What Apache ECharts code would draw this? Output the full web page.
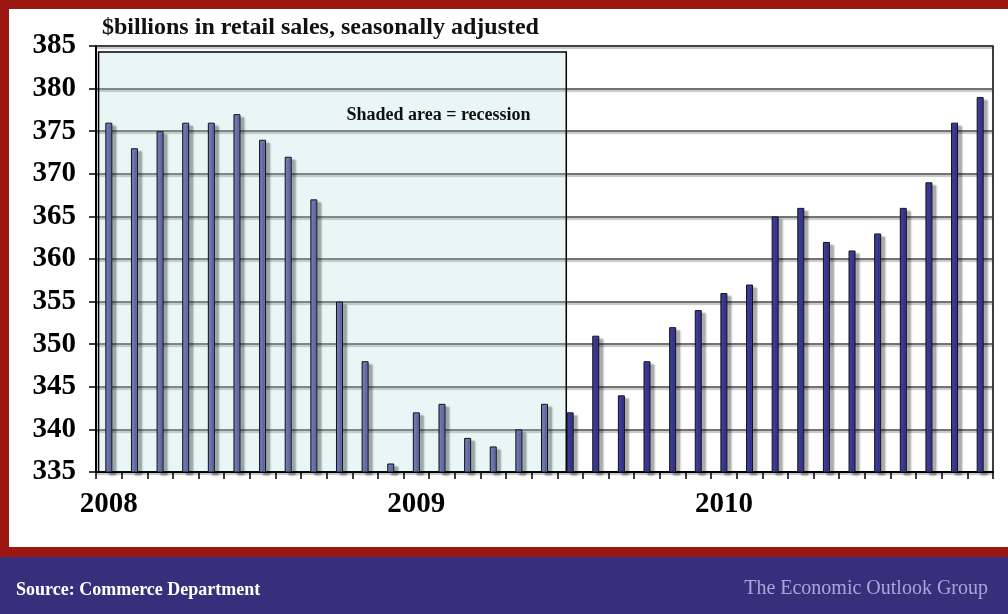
<!DOCTYPE html>
<html>
<head>
<meta charset="utf-8">
<script src="https://cdn.jsdelivr.net/npm/echarts@6/dist/echarts.min.js"></script>
<style>
html,body{margin:0;padding:0;background:#fff;}
#c{width:1008px;height:614px;}
</style>
</head>
<body>
<div id="c"></div>
<script>
// ---- data ----
const months = [
  '2008-01','2008-02','2008-03','2008-04','2008-05','2008-06','2008-07','2008-08','2008-09','2008-10','2008-11','2008-12',
  '2009-01','2009-02','2009-03','2009-04','2009-05','2009-06','2009-07','2009-08','2009-09','2009-10','2009-11','2009-12',
  '2010-01','2010-02','2010-03','2010-04','2010-05','2010-06','2010-07','2010-08','2010-09','2010-10','2010-11'
];
const sales = [
  376, 373, 375, 376, 376, 377, 374, 372, 367, 355, 348, 336,
  342, 343, 339, 338, 340, 343, 342, 351, 344, 348, 352, 354,
  356, 357, 365, 366, 362, 361, 363, 366, 369, 376, 379
];
const recessionCount = 18; // Jan 2008 .. Jun 2009
const yTicks = { min: 335, max: 385, step: 5 };
const titleText = '$billions in retail sales, seasonally adjusted';
const shadeText = 'Shaded area = recession';
const sourceText = 'Source: Commerce Department';
const brandText = 'The Economic Outlook Group';

const serif = '"Liberation Serif", "DejaVu Serif", serif';
const chart = echarts.init(document.getElementById('c'), null, {renderer: 'canvas'});

const barData = sales.map((v, i) => ({
  value: v,
  itemStyle: { color: i < recessionCount ? '#6f78b8' : '#3c3c9c' }
}));

chart.setOption({
  animation: false,
  backgroundColor: '#ffffff',
  title: {
    text: titleText,
    left: 97, top: 11,
    textStyle: { fontFamily: serif, fontWeight: 'bold', fontSize: 24, color: '#111' }
  },
  grid: {
    left: 96, right: 15, top: 46, bottom: 142,
    show: true, borderColor: '#000', borderWidth: 1.5, backgroundColor: 'transparent'
  },
  xAxis: [{
    type: 'category',
    data: months,
    axisLine: { lineStyle: { color: '#000', width: 2 } },
    axisTick: { show: true, interval: 0, length: 7, alignWithLabel: false, lineStyle: { color: '#000', width: 1.5 } },
    axisLabel: {
      interval: 0, margin: 18,
      formatter: v => v.endsWith('-01') ? v.slice(0, 4) : '',
      fontFamily: serif, fontWeight: 'bold', fontSize: 29, color: '#000'
    },
    splitLine: { show: false }
  }, {
    type: 'value', min: 0, max: months.length, show: false
  }],
  yAxis: {
    type: 'value',
    min: yTicks.min, max: yTicks.max, interval: yTicks.step,
    axisLine: { show: true, lineStyle: { color: '#000', width: 2 } },
    axisTick: { show: true, length: 7, lineStyle: { color: '#000', width: 1.5 } },
    axisLabel: { margin: 20, fontFamily: serif, fontWeight: 'bold', fontSize: 29, color: '#000' },
    splitLine: { show: true, lineStyle: { color: '#444', width: 1.7, shadowColor: 'rgba(0,0,0,0.3)', shadowOffsetY: 2, shadowBlur: 1 } }
  },
  series: [{
    type: 'line',
    xAxisIndex: 1,
    data: [],
    z: 1,
    silent: true,
    markArea: {
      silent: true,
      itemStyle: { color: 'rgba(160,215,215,0.22)', borderColor: '#000', borderWidth: 1.5 },
      label: {
        show: true,
        position: ['53%', '13%'],
        align: 'left', verticalAlign: 'top',
        formatter: shadeText,
        fontFamily: serif, fontWeight: 'bold', fontSize: 18, color: '#111'
      },
      data: [[ { coord: [0.1, yTicks.min] }, { coord: [recessionCount + 0.35, 384.3] } ]]
    }
  }, {
    type: 'bar',
    data: barData,
    barWidth: 7,
    z: 3,
    itemStyle: {
      borderColor: '#111', borderWidth: 1,
      shadowColor: 'rgba(0,0,0,0.32)', shadowOffsetX: 4, shadowOffsetY: 3, shadowBlur: 2
    }
  }],
  graphic: [
    { type: 'rect', shape: { x: 0, y: 0, width: 1008, height: 9 }, style: { fill: '#9d1712' }, z: 100 },
    { type: 'rect', shape: { x: 0, y: 0, width: 9, height: 557 }, style: { fill: '#9d1712' }, z: 100 },
    { type: 'rect', shape: { x: 0, y: 547, width: 1008, height: 10 }, style: { fill: '#9d1712' }, z: 100 },
    { type: 'rect', shape: { x: 0, y: 557, width: 1008, height: 57 }, style: { fill: '#36307c' }, z: 100 },
    { type: 'text', x: 16, y: 590, z: 101,
      style: { text: sourceText, fill: '#ffffff', font: 'bold 18px ' + serif, verticalAlign: 'middle', align: 'left' } },
    { type: 'text', x: 988, y: 589, z: 101,
      style: { text: brandText, fill: '#aaa6d8', font: '20px ' + serif, verticalAlign: 'middle', align: 'right',
               shadowColor: 'rgba(0,0,0,0.6)', shadowOffsetX: 2, shadowOffsetY: 2, shadowBlur: 2 } }
  ]
});
</script>
</body>
</html>
